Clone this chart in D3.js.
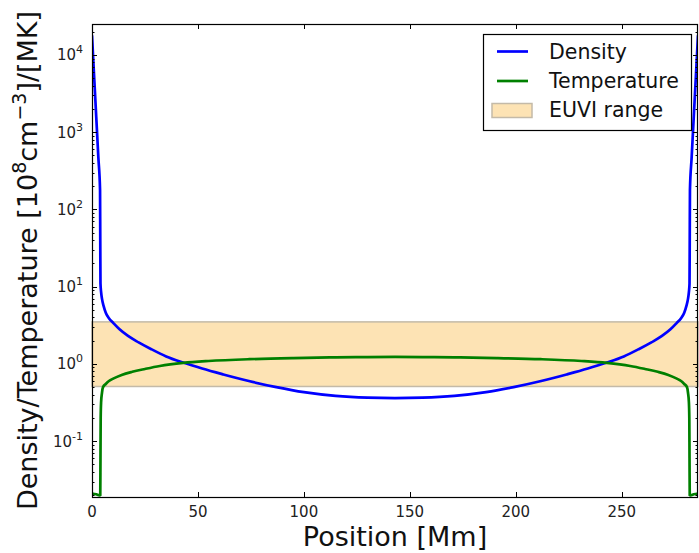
<!DOCTYPE html>
<html>
<head>
<meta charset="utf-8">
<script src="https://cdn.jsdelivr.net/npm/d3@7"></script>
<style>
  body { margin: 0; background: #fff; }
  svg { display: block; font-family: "DejaVu Sans", sans-serif; }
</style>
</head>
<body>
<svg id="chart" width="699" height="553"></svg>
<script>
// loop position [Mm] and the profiles
const densityPos = [0, 1, 2, 3, 3.8, 3.9, 4.0, 4.3, 4.7, 5.5, 6.5, 8, 10, 13, 17, 22, 28, 35, 43, 52, 62, 74, 87, 100, 115, 130, 143,
  156, 171, 186, 199, 212, 224, 234, 243, 251, 258, 264, 269, 273, 276, 278, 279.5, 280.5, 281.3, 281.7, 282, 282.1, 282.2, 283, 284, 285, 286];
const density = [18000, 5300, 1580, 470, 178, 40, 11, 8.5, 7, 5.6, 4.6, 3.9, 3.4, 2.8, 2.3, 1.9, 1.55, 1.25, 1.04, 0.87, 0.73, 0.6, 0.5, 0.43, 0.385, 0.365, 0.36,
  0.365, 0.385, 0.43, 0.5, 0.6, 0.73, 0.87, 1.04, 1.25, 1.55, 1.9, 2.3, 2.8, 3.4, 3.9, 4.6, 5.6, 7, 8.5, 11, 40, 178, 470, 1580, 5300, 18000];

const tempPos = [0, 2, 3.6, 3.9, 4.0, 4.1, 4.3, 4.7, 5.2, 6.5, 8, 10, 14, 19, 25, 32, 43, 55, 74, 95, 115, 130, 143,
  156, 171, 191, 212, 231, 243, 254, 261, 267, 272, 276, 278, 279.5, 280.8, 281.3, 281.7, 281.9, 282, 282.1, 282.4, 284, 286];
const temperature = [0.021, 0.0205, 0.0198, 0.02, 0.06, 0.2, 0.32, 0.42, 0.5, 0.55, 0.6, 0.645, 0.72, 0.79, 0.86, 0.94, 1.03, 1.09, 1.15, 1.19, 1.215, 1.226, 1.23,
  1.226, 1.215, 1.19, 1.15, 1.09, 1.03, 0.94, 0.86, 0.79, 0.72, 0.645, 0.6, 0.55, 0.5, 0.42, 0.32, 0.2, 0.06, 0.02, 0.0198, 0.0205, 0.021];

const euviRange = [0.51, 3.5];
const xTicks = [0, 50, 100, 150, 200, 250];
const yDecades = [-1, 0, 1, 2, 3, 4];
const legendItems = ["Density", "Temperature", "EUVI range"];

const svg = d3.select("#chart");
const mLeft = 92, mRight = 698, mTop = 24, mBottom = 497;

const x = d3.scaleLinear().domain([0, 286]).range([mLeft, mRight]);
const y = d3.scaleLog().domain([0.0189, 25200]).range([mBottom, mTop]);

const plot = svg.append("g");
plot.append("clipPath").attr("id", "clip")
  .append("rect").attr("x", mLeft).attr("y", mTop).attr("width", mRight - mLeft).attr("height", mBottom - mTop);

// EUVI band
plot.append("rect")
  .attr("x", mLeft).attr("width", mRight - mLeft)
  .attr("y", y(euviRange[1])).attr("height", y(euviRange[0]) - y(euviRange[1]))
  .attr("fill", "#fde3b4").attr("stroke", "#c4baa8").attr("stroke-width", 1.5);

const line = d3.line().curve(d3.curveMonotoneX);

plot.append("path")
  .attr("clip-path", "url(#clip)")
  .attr("d", line(densityPos.map((p, i) => [x(p), y(density[i])])))
  .attr("fill", "none").attr("stroke", "#0000ff").attr("stroke-width", 2.7);

plot.append("path")
  .attr("clip-path", "url(#clip)")
  .attr("d", line(tempPos.map((p, i) => [x(p), y(temperature[i])])))
  .attr("fill", "none").attr("stroke", "#008000").attr("stroke-width", 2.7);

// ticks, inward on all sides
const ticks = svg.append("g").attr("stroke", "#000").attr("stroke-width", 1);
xTicks.forEach(t => {
  const px = Math.round(x(t)) + 0.5;
  ticks.append("line").attr("x1", px).attr("x2", px).attr("y1", mBottom).attr("y2", mBottom - 5);
  ticks.append("line").attr("x1", px).attr("x2", px).attr("y1", mTop).attr("y2", mTop + 5);
});
const minor = [];
for (let d = -2; d <= 4; d++) for (let m = 2; m <= 9; m++) {
  const v = m * Math.pow(10, d);
  if (v >= y.domain()[0] && v <= y.domain()[1]) minor.push(v);
}
minor.forEach(v => {
  const py = Math.round(y(v)) + 0.5;
  ticks.append("line").attr("x1", mLeft).attr("x2", mLeft + 2.5).attr("y1", py).attr("y2", py);
  ticks.append("line").attr("x1", mRight).attr("x2", mRight - 2.5).attr("y1", py).attr("y2", py);
});
yDecades.forEach(d => {
  const py = Math.round(y(Math.pow(10, d))) + 0.5;
  ticks.append("line").attr("x1", mLeft).attr("x2", mLeft + 5).attr("y1", py).attr("y2", py);
  ticks.append("line").attr("x1", mRight).attr("x2", mRight - 5).attr("y1", py).attr("y2", py);
});

// frame
svg.append("rect")
  .attr("x", mLeft + 0.5).attr("y", mTop + 0.5)
  .attr("width", mRight - mLeft - 1).attr("height", mBottom - mTop)
  .attr("fill", "none").attr("stroke", "#000").attr("stroke-width", 1.2);

// tick labels
const labels = svg.append("g").attr("fill", "#222").attr("font-size", 15);
xTicks.forEach(t => {
  labels.append("text").attr("x", x(t)).attr("y", 517).attr("text-anchor", "middle").text(t);
});
yDecades.forEach(d => {
  const t = labels.append("text").attr("x", 83).attr("y", y(Math.pow(10, d)) + 5.5).attr("text-anchor", "end");
  t.append("tspan").text("10");
  t.append("tspan").attr("dy", -7).attr("font-size", 11).text(d);
});

// axis titles
svg.append("text")
  .attr("x", (mLeft + mRight) / 2).attr("y", 546)
  .attr("text-anchor", "middle").attr("font-size", 27).attr("fill", "#111")
  .text("Position [Mm]");

const yl = svg.append("text")
  .attr("transform", `translate(37,${(mTop + mBottom) / 2}) rotate(-90)`)
  .attr("text-anchor", "middle").attr("font-size", 27).attr("fill", "#111");
yl.append("tspan").text("Density/Temperature [10");
yl.append("tspan").attr("dy", -11).attr("font-size", 19).text("8");
yl.append("tspan").attr("dy", 11).text("cm");
yl.append("tspan").attr("dy", -11).attr("font-size", 19).text("\u22123");
yl.append("tspan").attr("dy", 11).text("]/[MK]");

// legend
const lg = svg.append("g");
lg.append("rect").attr("x", 483.5).attr("y", 34.5).attr("width", 208).attr("height", 96)
  .attr("fill", "#fff").attr("stroke", "#000").attr("stroke-width", 1.2);
const rowY = [51.5, 81, 110];
lg.append("line").attr("x1", 497).attr("x2", 528).attr("y1", rowY[0]).attr("y2", rowY[0])
  .attr("stroke", "#0000ff").attr("stroke-width", 2.7);
lg.append("line").attr("x1", 497).attr("x2", 528).attr("y1", rowY[1]).attr("y2", rowY[1])
  .attr("stroke", "#008000").attr("stroke-width", 2.7);
lg.append("rect").attr("x", 492).attr("y", rowY[2] - 6.5).attr("width", 40).attr("height", 14)
  .attr("fill", "#fde3b4").attr("stroke", "#c4baa8").attr("stroke-width", 1.5);
legendItems.forEach((name, i) => {
  lg.append("text").attr("x", 549).attr("y", rowY[i] + 7).attr("font-size", 20.5).attr("fill", "#111").text(name);
});
</script>
</body>
</html>
